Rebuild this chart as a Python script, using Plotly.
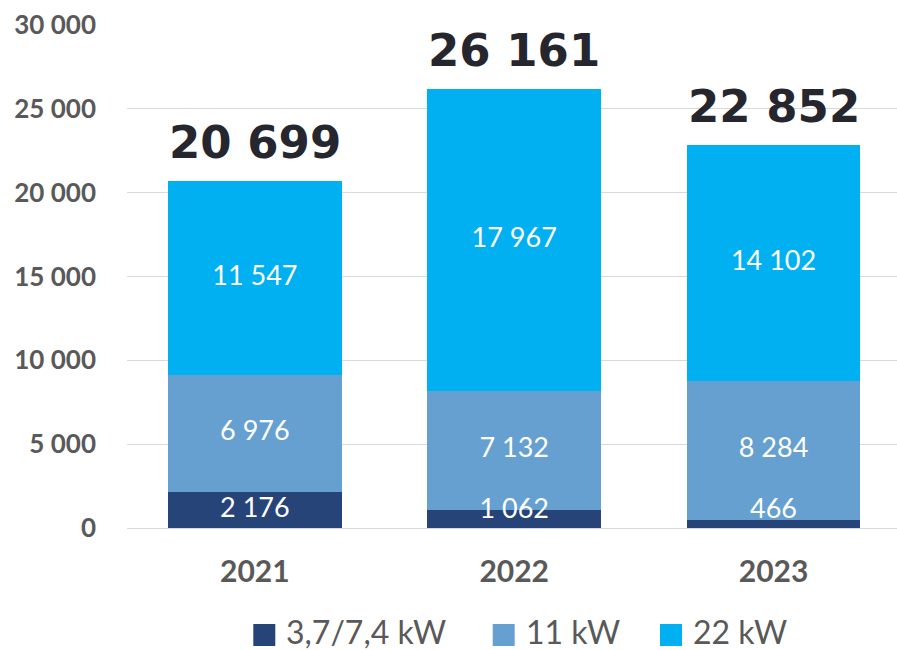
import plotly.graph_objects as go

years = ["2021", "2022", "2023"]
series_names = ["3,7/7,4 kW", "11 kW", "22 kW"]
kw_low = [2176, 1062, 466]
kw_11 = [6976, 7132, 8284]
kw_22 = [11547, 17967, 14102]
totals = [20699, 26161, 22852]
y_ticks = [0, 5000, 10000, 15000, 20000, 25000, 30000]
y_tick_text = ["0", "5 000", "10 000", "15 000", "20 000", "25 000", "30 000"]

colors = ["#264478", "#65A0D0", "#00B0F0"]
series = [kw_low, kw_11, kw_22]

# plot-area geometry (pixels) used to place the hand-drawn legend
PL, PR, PT, PB = 127, 897, 25, 528


def fmt(v):
    return f"{v:,}".replace(",", " ")


def px_x(px):
    return (px - PL) / (PR - PL)


def px_y(py):
    return (PB - py) / (PB - PT)


fig = go.Figure()
base = [0, 0, 0]
label_x, label_y, label_t = [], [], []
for name, vals, col in zip(series_names, series, colors):
    fig.add_trace(go.Bar(
        x=years, y=vals, name=name, marker=dict(color=col, line=dict(width=0)),
        width=0.67, showlegend=False, hoverinfo="skip",
    ))
    for i, v in enumerate(vals):
        mid = base[i] + v / 2
        label_x.append(years[i])
        label_y.append(max(mid, 1000))
        label_t.append(fmt(v))
        base[i] += v

# segment labels
fig.add_trace(go.Scatter(
    x=label_x, y=label_y, text=label_t, mode="text", showlegend=False,
    textfont=dict(family="Lato", size=27, color="white"), hoverinfo="skip",
))

# totals
for i, t in enumerate(totals):
    fig.add_annotation(x=i, y=t, xref="x", yref="y", text=f"<b>{fmt(t)}</b>",
                       showarrow=False, yanchor="bottom", yshift=10,
                       font=dict(family="DejaVu Sans", size=45, color="#26262E"))

# legend (squares + labels below the plot)
legend_sq_left = [253.3, 492.7, 660.0]
for name, col, sx in zip(series_names, colors, legend_sq_left):
    fig.add_shape(type="rect", xref="paper", yref="paper",
                  x0=px_x(sx), x1=px_x(sx + 22), y0=px_y(624), y1=px_y(646),
                  fillcolor=col, line=dict(width=0))
    fig.add_annotation(xref="paper", yref="paper", x=px_x(sx + 31), y=px_y(631),
                       xanchor="left", yanchor="middle", text=name, showarrow=False,
                       font=dict(family="Lato", size=32, color="#595959"))

fig.update_layout(
    width=897, height=650,
    margin=dict(l=PL, r=897 - PR, t=PT, b=650 - PB, autoexpand=False),
    barmode="stack",
    plot_bgcolor="white", paper_bgcolor="white",
    font=dict(family="Lato", color="#595959"),
    xaxis=dict(type="category", range=[-0.493, 2.476], showgrid=False,
               showline=False, zeroline=False,
               tickfont=dict(family="Lato", size=30, color="#595959", weight="bold"),
               ticks="", ticklabelstandoff=23),
    yaxis=dict(range=[0, 30000], tickvals=y_ticks, ticktext=y_tick_text,
               showgrid=True, gridcolor="#D9D9D9", gridwidth=1,
               zeroline=True, zerolinecolor="#D9D9D9", zerolinewidth=1,
               tickfont=dict(family="Lato", size=26, color="#595959", weight="bold"),
               ticks="", ticklabelstandoff=30),
    showlegend=False,
)

fig.write_html("out.html", config={"displayModeBar": False},
               post_script="document.body.style.margin='0';")
